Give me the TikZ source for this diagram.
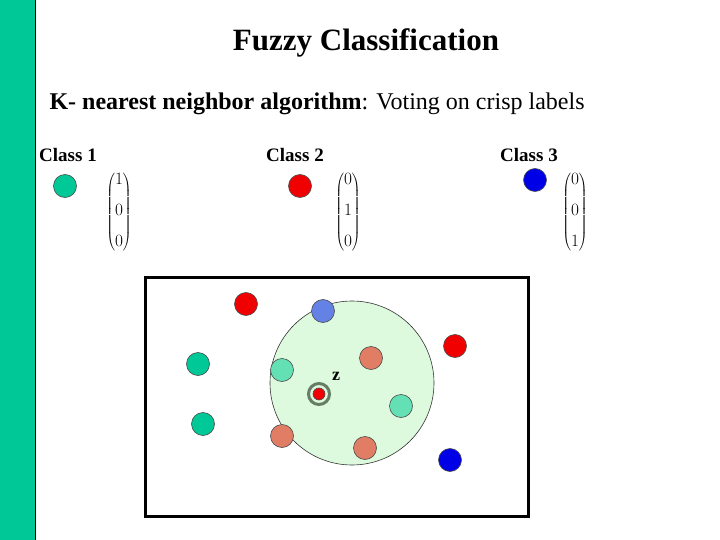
\documentclass[tikz,border=0pt]{standalone}
\usepackage{fontspec}
\setmainfont{Liberation Serif}
\begin{document}
\begin{tikzpicture}[x=1pt,y=-1pt,
  dot/.style={circle,draw=black!70,line width=0.6pt,minimum size=23pt,inner sep=0pt},
  lbl/.style={font=\bfseries\fontsize{19}{21}\selectfont},
  vec/.style={font=\fontsize{16}{18}\selectfont}]
\definecolor{cA}{RGB}{0,200,150}
\definecolor{cB}{RGB}{240,0,0}
\definecolor{cC}{RGB}{0,0,230}
\definecolor{cL}{RGB}{100,225,180}
\definecolor{cS}{RGB}{225,125,100}
\definecolor{cP}{RGB}{100,130,230}
\definecolor{cBg}{RGB}{222,250,222}
\useasboundingbox (0,0) rectangle (720,540);
\fill[white] (0,0) rectangle (720,540);
\fill[cA] (0,0) rectangle (35,540);
\draw[black,line width=0.8pt] (35,0) -- (35,540);
\node[font=\bfseries\fontsize{31}{34}\selectfont] (title) at (366,43) {Fuzzy Classification};
\node[anchor=west,font=\fontsize{24}{27}\selectfont] (sub) at (46,104) {\textbf{K- nearest neighbor algorithm}: Voting on crisp labels};
\node[lbl] (l1) at (68,155) {Class 1};
\node[lbl] (l2) at (295,155) {Class 2};
\node[lbl] (l3) at (529,155) {Class 3};
\node[dot,fill=cA] (d1) at (65,186) {};
\node[dot,fill=cB] (d2) at (300,186) {};
\node[dot,fill=cC] (d3) at (535,180) {};
\node[vec] (v1) at (119,212) {$\left(\begin{array}{@{}c@{}}1\\[13pt]0\\[13pt]0\end{array}\right)$};
\node[vec] (v2) at (348,212) {$\left(\begin{array}{@{}c@{}}0\\[13pt]1\\[13pt]0\end{array}\right)$};
\node[vec] (v3) at (575,212) {$\left(\begin{array}{@{}c@{}}0\\[13pt]0\\[13pt]1\end{array}\right)$};
\draw[line width=3pt] (145,277) rectangle (528,516);
\draw[black!80,fill=cBg,line width=0.6pt] (352,383) circle (82);
\node[dot,fill=cB] (p1) at (246,304) {};
\node[dot,fill=cP] (p2) at (323,311) {};
\node[dot,fill=cA] (p3) at (198,364) {};
\node[dot,fill=cL] (p4) at (282,370) {};
\node[dot,fill=cS] (p5) at (371,358) {};
\node[dot,fill=cL] (p6) at (401,406) {};
\node[dot,fill=cS] (p7) at (282,436) {};
\node[dot,fill=cS] (p8) at (365,448) {};
\node[dot,fill=cB] (p9) at (455,346) {};
\node[dot,fill=cA] (p10) at (203,424) {};
\node[dot,fill=cC] (p11) at (450,460) {};
\draw[draw={rgb,255:red,100;green,125;blue,100},line width=3pt] (319,394) circle (10.5);
\node[dot,fill=cB,minimum size=12pt] (z) at (319,394) {};
\node[font=\bfseries\fontsize{18}{20}\selectfont] (zl) at (336,376) {z};
\end{tikzpicture}
\end{document}
